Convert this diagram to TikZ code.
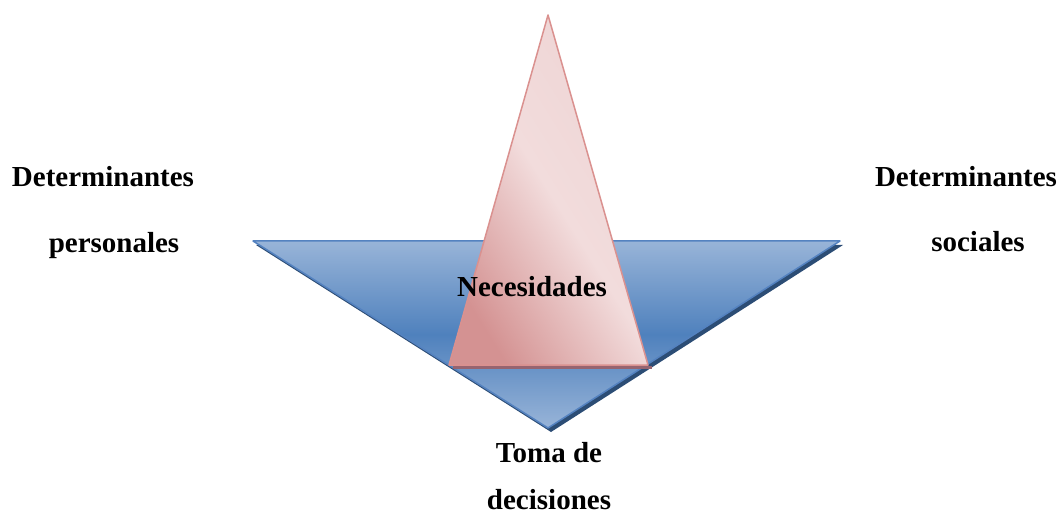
\documentclass[tikz,border=0pt]{standalone}
\usepackage{fontspec}
\setmainfont{Liberation Serif}
\definecolor{bluelight}{RGB}{152,180,216}
\definecolor{bluedark}{RGB}{79,129,189}
\definecolor{blueedge}{RGB}{84,130,192}
\definecolor{blueshadow}{RGB}{44,77,117}
\definecolor{pinkdark}{RGB}{212,146,146}
\definecolor{pinklight}{RGB}{242,220,220}
\definecolor{pinkmid}{RGB}{238,212,212}
\definecolor{pinkedge}{RGB}{218,145,143}
\definecolor{pinkbase}{RGB}{150,100,112}
\tikzset{
  lbl/.style = {font=\fontsize{29}{34}\selectfont\bfseries, anchor=base},
  funnel/.style = {top color=bluelight, bottom color=bluelight,
    middle color=bluedark, draw=blueedge, line width=1.5pt, line join=round},
  peak/.style = {left color=pinkdark, right color=pinkmid,
    middle color=pinklight, shading angle=122, draw=pinkedge,
    line width=1.5pt, line join=round}
}

\begin{document}
\begin{tikzpicture}[x=1pt,y=1pt]
  \useasboundingbox (0,0) rectangle (1064,514);
  % inverted triangle with its shadow
  \fill[blueshadow] (256,269) -- (843,269) -- (551,82) -- cycle;
  \shade[funnel] (253,273) -- (840,273) -- (548,86) -- cycle;
  % upright triangle
  \shade[peak] (548,499) -- (449,149) -- (648,149) -- cycle;
  \fill[pinkbase] (453,145) rectangle (652,148.5);
  % texts
  \node[lbl] (detp) at (103,327) {Determinantes};
  \node[lbl] (pers) at (114,261) {personales};
  \node[lbl] (dets) at (966,327) {Determinantes};
  \node[lbl] (soc) at (978,262) {sociales};
  \node[lbl] (nec) at (532,217) {Necesidades};
  \node[lbl] (toma) at (549,52) {Toma de};
  \node[lbl] (dec) at (549,5) {decisiones};
\end{tikzpicture}
\end{document}
